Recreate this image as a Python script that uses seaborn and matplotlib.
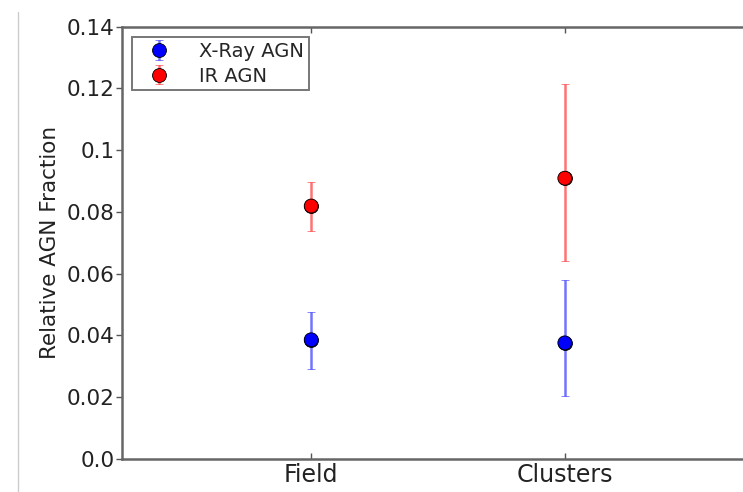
import matplotlib
matplotlib.use("Agg")
import matplotlib.pyplot as plt
import seaborn as sns
import pandas as pd
import numpy as np

# Environment categories
categories = ["Field", "Clusters"]

# X-ray selected AGN: fraction and asymmetric errors
xray_frac = [0.0386, 0.0376]
xray_err_lo = [0.0094, 0.0172]
xray_err_hi = [0.0091, 0.0203]

# IR selected AGN: fraction and asymmetric errors
ir_frac = [0.0819, 0.0909]
ir_err_lo = [0.0080, 0.0267]
ir_err_hi = [0.0077, 0.0304]

y_ticks = [0.0, 0.02, 0.04, 0.06, 0.08, 0.1, 0.12, 0.14]
y_tick_labels = ["0.0", "0.02", "0.04", "0.06", "0.08", "0.1", "0.12", "0.14"]

sns.set_style("white")
plt.rcParams["font.family"] = ["DejaVu Sans"]

W, H, DPI = 743, 492, 100
fig = plt.figure(figsize=(W / DPI, H / DPI), dpi=DPI)
ax = fig.add_axes([122 / W, (H - 459) / H, 633 / W, 432.5 / H])

df = pd.DataFrame({
    "env": categories * 2,
    "frac": xray_frac + ir_frac,
    "kind": ["X-Ray AGN"] * 2 + ["IR AGN"] * 2,
})
palette = {"X-Ray AGN": "#0000ff", "IR AGN": "#ff0000"}

series = [
    ("X-Ray AGN", xray_frac, xray_err_lo, xray_err_hi),
    ("IR AGN", ir_frac, ir_err_lo, ir_err_hi),
]
xpos = np.arange(len(categories))
for name, vals, lo, hi in series:
    c = palette[name]
    ax.errorbar(xpos, vals, yerr=[lo, hi], fmt="o", color=c,
                ecolor=matplotlib.colors.to_rgba(c, 0.55), elinewidth=1.8,
                capsize=3, capthick=1.8, markersize=10,
                markerfacecolor=c, markeredgecolor="black",
                markeredgewidth=0.6, label=name, zorder=2)

sns.scatterplot(data=df, x="env", y="frac", hue="kind", palette=palette,
                s=100, edgecolor="black", linewidth=0.6, legend=False,
                ax=ax, zorder=3)

ax.set_xlim(-0.746, 1.75)
ax.set_ylim(0, 0.14)
ax.set_yticks(y_ticks)
ax.set_yticklabels(y_tick_labels)
ax.set_xticks(xpos)
ax.set_xticklabels(categories)
ax.set_xlabel("")
ax.set_ylabel("Relative AGN Fraction", fontsize=15.5, color="#222222", labelpad=5)

ax.tick_params(axis="y", direction="out", length=4, width=1, labelsize=15.5,
               colors="#555555", labelcolor="#222222", left=True, pad=1.5)
ax.tick_params(axis="x", direction="in", length=4, width=1, labelsize=17,
               colors="#555555", labelcolor="#222222", bottom=True, top=True, pad=3)

for s in ax.spines.values():
    s.set_color("#666666")
    s.set_linewidth(1.8)

leg = ax.legend(loc="upper left", bbox_to_anchor=(0.004, 0.994), fontsize=14,
                frameon=True, fancybox=False, borderpad=0.25,
                handletextpad=1.0, labelspacing=0.3, numpoints=1,
                handlelength=2.2, borderaxespad=0.4)
leg.get_frame().set_edgecolor("#555555")
leg.get_frame().set_linewidth(1.4)

# thin page border line on the left
fig.add_artist(plt.Line2D([17.5 / W, 17.5 / W], [0, 1 - 12 / H],
                          color="#cccccc", linewidth=1.0))

fig.savefig("out.png", dpi=DPI)
